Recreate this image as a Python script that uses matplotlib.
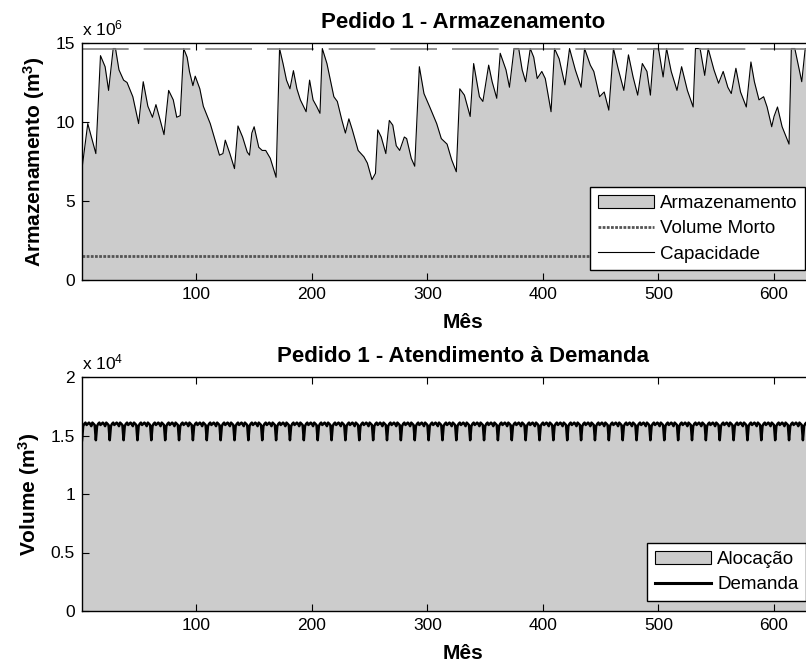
import matplotlib
matplotlib.use("Agg")
import matplotlib.pyplot as plt
import numpy as np
from matplotlib.lines import Line2D
from matplotlib.patches import Patch

plt.rcParams["font.family"] = ["Liberation Sans", "DejaVu Sans"]
plt.rcParams["mathtext.fontset"] = "custom"
plt.rcParams["mathtext.rm"] = "Liberation Sans"
plt.rcParams["mathtext.bf"] = "Liberation Sans:bold"
plt.rcParams["mathtext.default"] = "regular"

# storage (x 10^6 m3), read at the turning points of the curve
storage_month = [
    1, 6, 13, 17, 21, 24, 28, 30, 33, 37, 40, 45, 50, 54, 58, 62, 65, 68, 72, 76,
    80, 83, 86, 89, 92, 94, 97, 99, 103, 106, 112, 116, 120, 123, 125, 129, 133, 136,
    140, 144, 146, 148, 150, 154, 157, 160, 164, 169, 172, 175, 178, 181, 184, 187,
    190, 195, 198, 201, 204, 207, 209, 213, 219, 222, 226, 229, 232, 235, 240, 245,
    248, 252, 255, 257, 260, 264, 267, 270, 273, 276, 280, 282, 286, 289, 293, 297,
    302, 308, 312, 317, 321, 325, 328, 332, 337, 340, 345, 348, 353, 356, 360, 363,
    368, 371, 375, 379, 382, 385, 389, 392, 395, 399, 402, 407, 410, 414, 419, 423,
    428, 433, 436, 441, 444, 449, 453, 457, 461, 465, 470, 474, 478, 482, 486, 490,
    493, 496, 500, 504, 507, 511, 516, 520, 525, 530, 532, 536, 540, 543, 548, 552,
    556, 560, 563, 567, 571, 576, 580, 583, 587, 591, 594, 598, 600, 603, 607, 613,
    615, 618, 624, 627, 632,
]
storage = [
    7.05, 9.9, 8.0, 14.2, 13.5, 12.0, 14.65, 14.65, 13.3, 12.65, 12.5, 11.6, 9.9, 12.55,
    11.0, 10.3, 11.1, 10.3, 9.2, 12.0, 11.4, 10.3, 10.4, 14.65, 14.1, 13.2, 12.3, 12.9,
    12.1, 11.0, 9.9, 8.9, 7.9, 8.0, 8.85, 8.0, 7.05, 9.75, 9.05, 8.1, 7.9, 9.3, 9.7,
    8.4, 8.2, 8.2, 7.7, 6.5, 14.65, 13.7, 12.65, 12.1, 13.25, 12.1, 11.4, 10.65, 12.65,
    11.4, 11.0, 10.55, 14.65, 13.7, 11.6, 11.3, 10.1, 9.3, 10.2, 9.5, 8.2, 7.8, 7.4,
    6.35, 6.75, 9.5, 9.05, 8.0, 10.1, 9.8, 8.5, 8.2, 9.05, 8.95, 7.7, 7.2, 13.5, 11.8,
    10.95, 9.9, 8.95, 8.6, 7.6, 6.85, 12.1, 11.7, 10.35, 13.7, 11.6, 11.3, 13.6, 12.55,
    11.5, 14.35, 13.3, 12.2, 14.65, 14.65, 13.3, 12.55, 14.65, 14.1, 12.75, 13.2, 12.75,
    10.65, 14.65, 14.0, 12.35, 14.65, 13.3, 12.2, 14.65, 13.6, 13.2, 11.6, 11.9, 10.75,
    14.65, 13.4, 12.0, 14.25, 12.85, 11.7, 13.7, 13.2, 11.7, 14.65, 14.65, 12.85, 14.65,
    13.2, 12.0, 13.5, 12.0, 10.95, 14.65, 14.65, 12.95, 14.65, 13.3, 12.45, 13.2, 12.2,
    11.8, 13.4, 11.9, 10.95, 13.8, 12.55, 11.4, 11.6, 10.95, 9.7, 10.35, 10.95, 9.7,
    8.6, 14.65, 14.65, 12.55, 14.65, 14.6,
]
capacity = 14.65      # x 10^6 m3
dead_volume = 1.5     # x 10^6 m3

# demand (x 10^4 m3): one year of monthly values, repeated every year
demand_year = [1.46, 1.58, 1.60, 1.61, 1.59, 1.60, 1.61, 1.60, 1.58, 1.61, 1.60, 1.59]
n_years = 55

months = np.arange(1, 12 * n_years + 1)
demand = np.tile(demand_year, n_years)
allocation = demand.copy()

GREY = "#cccccc"
W, H = 806, 667
x_max = 660

fig = plt.figure(figsize=(W / 100, H / 100), dpi=100)
ax_right = 82 + (x_max - 1) * 1.1553
ax1 = fig.add_axes([82 / W, 1 - 280 / H, (ax_right - 82) / W, 237 / H])
ax2 = fig.add_axes([82 / W, 1 - 611 / H, (ax_right - 82) / W, 234 / H])

legend_kw = dict(bbox_transform=fig.transFigure, loc="upper left", fontsize=13.5,
                 fancybox=False, edgecolor="black", framealpha=1, borderaxespad=0,
                 handlelength=3.0, labelspacing=0.45, borderpad=0.4, handletextpad=0.35)

# top: storage
ax1.fill_between(storage_month, storage, 0, color=GREY, lw=0)
ax1.plot(storage_month, storage, color="black", lw=0.8)
ax1.axhline(capacity, color="#7f7f7f", lw=1.2, linestyle=(0, (28, 9)))
ax1.axhline(dead_volume, color="#555555", lw=2.0, linestyle=(0, (1, 0.5)))
ax1.set_ylim(0, 15)
ax1.set_yticks([0, 5, 10, 15])
ax1.set_title("Pedido 1 - Armazenamento", fontsize=16, fontweight="bold", pad=11)
ax1.set_ylabel(r"Armazenamento (m$^{\mathbf{3}}$)", fontsize=15, fontweight="bold", labelpad=6)
ax1.text(0, 1.02, r"x 10$^{6}$", transform=ax1.transAxes, fontsize=12.5, va="bottom")

handles1 = [
    Patch(facecolor=GREY, edgecolor="black", lw=0.8),
    Line2D([], [], color="#555555", lw=2.0, linestyle=(0, (1, 0.5))),
    Line2D([], [], color="black", lw=0.8),
]
ax1.legend(handles1, ["Armazenamento", "Volume Morto", "Capacidade"],
           bbox_to_anchor=(590 / W, 1 - 187 / H), **legend_kw)

# bottom: demand
ax2.fill_between(months, allocation, 0, color=GREY, lw=0)
ax2.plot(months, demand, color="black", lw=1.8)
ax2.set_ylim(0, 2)
ax2.set_yticks([0, 0.5, 1, 1.5, 2])
ax2.set_yticklabels(["0", "0.5", "1", "1.5", "2"])
ax2.set_title("Pedido 1 - Atendimento à Demanda", fontsize=16, fontweight="bold", pad=11)
ax2.set_ylabel(r"Volume (m$^{\mathbf{3}}$)", fontsize=15, fontweight="bold", labelpad=6)
ax2.text(0, 1.02, r"x 10$^{4}$", transform=ax2.transAxes, fontsize=12.5, va="bottom")

handles2 = [
    Patch(facecolor=GREY, edgecolor="black", lw=0.8),
    Line2D([], [], color="black", lw=2.2),
]
ax2.legend(handles2, ["Alocação", "Demanda"],
           bbox_to_anchor=(647 / W, 1 - 543 / H), **legend_kw)

for ax in (ax1, ax2):
    ax.set_xlim(1, x_max)
    ax.set_xticks([100, 200, 300, 400, 500, 600])
    ax.set_xlabel("Mês", fontsize=15, fontweight="bold", labelpad=8)
    ax.tick_params(direction="in", length=5, width=0.8, labelsize=12.5,
                   top=True, right=True, pad=5)
    for s in ax.spines.values():
        s.set_linewidth(1.0)
    ax.set_axisbelow(False)

fig.savefig("out.png", dpi=100)
